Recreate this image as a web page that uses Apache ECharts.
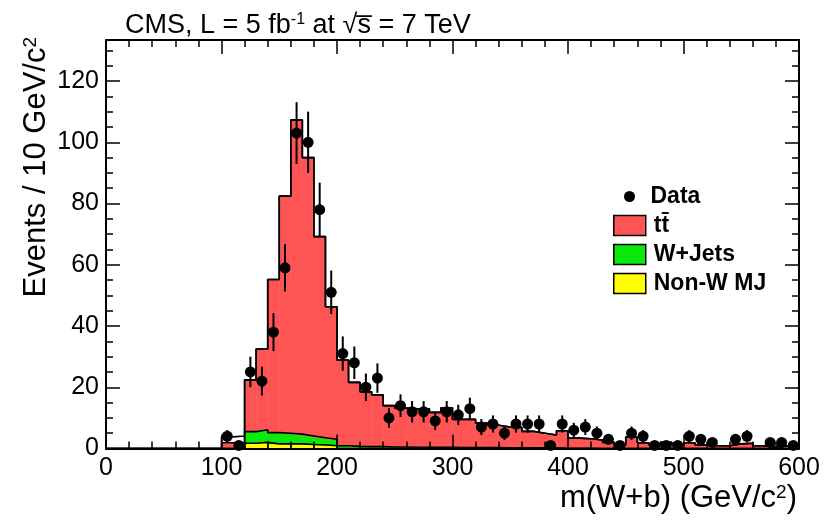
<!DOCTYPE html>
<html>
<head>
<meta charset="utf-8">
<script src="https://cdn.jsdelivr.net/npm/echarts@6/dist/echarts.min.js"></script>
<style>
  html, body { margin: 0; padding: 0; background: #fff; }
  #chart { width: 835px; height: 520px; }
</style>
</head>
<body>
<div id="chart"></div>
<script>
// Reconstructed m(W+b) distribution, 10 GeV/c^2 bins.

// Lower edges of the simulated-histogram bins (GeV/c^2)
const mcEdges = [100, 110, 120, 130, 140, 150, 160, 170, 180, 190,
                 200, 210, 220, 230, 240, 250, 260, 270, 280, 290,
                 300, 310, 320, 330, 340, 350, 360, 370, 380, 390,
                 400, 410, 420, 430, 440, 450, 460, 470, 480, 490,
                 500, 510, 520, 530, 540, 550, 560, 570, 580, 590];
const BIN_WIDTH = 10;

// Stacked expectations (events per bin), bottom to top
const nonWMJ = [0, 0, 1.7, 2.0, 1.5, 1.5, 1.5, 1.3, 1.2, 0.9,
                0, 0, 0, 0, 0, 0, 0, 0, 0, 0,
                0, 0, 0, 0, 0, 0, 0, 0, 0, 0,
                0, 0, 0, 0, 0, 0, 0, 0, 0, 0,
                0, 0, 0, 0, 0, 0, 0, 0, 0, 0];
const wJets = [0, 0, 3.8, 4.1, 3.7, 3.5, 3.2, 2.8, 2.3, 2.1,
               0.9, 0.7, 0.6, 0.6, 0.5, 0.5, 0.4, 0.4, 0.4, 0.4,
               0.3, 0.3, 0.3, 0.3, 0.2, 0.2, 0.2, 0.2, 0.2, 0.1,
               0.1, 0.1, 0, 0, 0, 0, 0, 0, 0, 0,
               0, 0, 0, 0, 0, 0, 0, 0, 0, 0];
const ttbar = [1.9, 1.9, 16.9, 26.4, 50.0, 77.4, 102.6, 90.9, 65.7, 43.3,
               28.0, 20.9, 17.9, 16.9, 13.5, 12.7, 12.6, 12.6, 11.4, 12.9,
               9.2, 9.2, 8.0, 7.3, 6.8, 6.7, 5.4, 4.8, 4.2, 5.7,
               3.3, 3.1, 2.8, 2.0, 1.2, 3.7, 1.9, 1.2, 2.0, 1.2,
               1.9, 1.2, 0.9, 0.9, 1.5, 1.7, 0.9, 0.4, 0.9, 0.6];
// Small unfilled contribution on top of the stack near threshold
const otherBkg = [1.9, 2.2, 0, 0, 0, 0, 0, 0, 0, 0,
                  0, 0, 0, 0, 0, 0, 0, 0, 0, 0,
                  0, 0, 0, 0, 0, 0, 0, 0, 0, 0,
                  0, 0, 0, 0, 0, 0, 0, 0, 0, 0,
                  0, 0, 0, 0, 0, 0, 0, 0, 0, 0];

// Observed events (bin centres, counts, statistical uncertainty)
const dataMass = [105, 115, 125, 135, 145, 155, 165, 175, 185, 195,
                  205, 215, 225, 235, 245, 255, 265, 275, 285, 295,
                  305, 315, 325, 335, 345, 355, 365, 375, 385, 395,
                  405, 415, 425, 435, 445, 455, 465, 475, 485, 495,
                  505, 515, 525, 545, 555, 575, 585, 595];
const dataCounts = [4, 1, 25, 22, 38, 59, 103, 100, 78, 51,
                    31, 28, 20, 23, 10, 14, 12, 12, 9, 12,
                    11, 13, 7, 8, 5, 8, 8, 8, 1, 8,
                    6, 7, 5, 3, 1, 5, 4, 1, 1, 1,
                    4, 3, 2, 3, 4, 2, 2, 1];
const dataErrors = [2.0, 1.0, 5.0, 4.7, 6.2, 7.7, 10.1, 10.0, 8.8, 7.1,
                    5.6, 5.3, 4.5, 4.8, 3.2, 3.7, 3.5, 3.5, 3.0, 3.5,
                    3.3, 3.6, 2.6, 2.8, 2.2, 2.8, 2.8, 2.8, 1.0, 2.8,
                    2.4, 2.6, 2.2, 1.7, 1.0, 2.2, 2.0, 1.0, 1.0, 1.0,
                    2.0, 1.7, 1.4, 1.7, 2.0, 1.4, 1.4, 1.0];

// Axis ranges and tick labels
const xTicks = [0, 100, 200, 300, 400, 500, 600];
const yTicks = [0, 20, 40, 60, 80, 100, 120];
const X_MAX = 600;
const Y_MAX = 133.4;

const FONT = 'Liberation Sans';
const COLORS = { tt: '#ff5454', wj: '#0be80b', mj: '#ffff00', other: '#ffffff' };
const TTBAR = 'tt\u0304';

// Build [lo, hi, base, top] rectangles for each layer of the stack
const layers = [nonWMJ, wJets, ttbar, otherBkg];
const cumulative = [];
let running = mcEdges.map(() => 0);
const layerRects = layers.map(vals => {
  const rects = mcEdges.map((e, i) => [e, e + BIN_WIDTH, running[i], running[i] + vals[i]]);
  running = running.map((r, i) => r + vals[i]);
  cumulative.push(running.slice());
  return rects;
});

// Step outline for a cumulative level
function outline(levels) {
  const pts = [[0, 0]];
  mcEdges.forEach((e, i) => pts.push([e, levels[i]]));
  pts.push([mcEdges[mcEdges.length - 1] + BIN_WIDTH, levels[levels.length - 1]]);
  return pts;
}

function makeBarRenderer(withDividers) {
  return function (params, api) {
    const lo = api.value(0), hi = api.value(1), b = api.value(2), t = api.value(3);
    if (t - b <= 0) return { type: 'group', children: [] };
    const p0 = api.coord([lo, t]);
    const p1 = api.coord([hi, b]);
    const fill = api.visual('color');
    const children = [{
      type: 'rect',
      shape: { x: p0[0], y: p0[1], width: p1[0] - p0[0], height: p1[1] - p0[1] },
      style: { fill: fill, stroke: fill, lineWidth: 0.6 }
    }];
    if (withDividers && lo % 20 === 0) {
      children.push({
        type: 'line',
        shape: { x1: p0[0], y1: p0[1], x2: p0[0], y2: p1[1] },
        style: { stroke: '#000', lineWidth: 1.2 }
      });
    }
    return { type: 'group', children: children };
  };
}

function renderErr(params, api) {
  const x = api.value(0);
  const a = api.coord([x, Math.max(0, api.value(1))]);
  const b = api.coord([x, api.value(2)]);
  return {
    type: 'line',
    shape: { x1: a[0], y1: a[1], x2: b[0], y2: b[1] },
    style: { stroke: '#000', lineWidth: 2 }
  };
}

const axisBase = {
  type: 'value',
  axisLine: { show: true, onZero: false, lineStyle: { color: '#000', width: 2 } },
  axisTick: { show: true, inside: true, length: 14, lineStyle: { color: '#000', width: 1.5 } },
  minorTick: { show: true, length: 7, lineStyle: { color: '#000', width: 1.5 } },
  splitLine: { show: false },
  minorSplitLine: { show: false },
  z: 10
};

const supStyle = { fontSize: 19, verticalAlign: 'top', fontFamily: FONT, color: '#000' };
const legendText = { fontSize: 23, fontWeight: 'bold', color: '#000', fontFamily: FONT };

const option = {
  animation: false,
  backgroundColor: '#fff',
  textStyle: { fontFamily: FONT, color: '#000' },
  grid: { left: 106, right: 36, top: 40, bottom: 71.5, show: false, outerBoundsMode: 'none', containLabel: false },
  title: [
    {
      text: 'CMS, L = 5 fb{sup|-1} at \u221As\u0305 = 7 TeV',
      left: 120, top: 7,
      textStyle: {
        fontSize: 27, fontWeight: 'normal', color: '#000', fontFamily: FONT,
        rich: { sup: { fontSize: 16, verticalAlign: 'top', fontFamily: FONT, color: '#000' } }
      }
    },
    {
      // horizontal-axis title, right-aligned under the axis end
      text: 'm(W+b) (GeV/c{sup|2})',
      right: 38, top: 483, padding: 0,
      textStyle: {
        fontSize: 31, fontWeight: 'normal', color: '#000', fontFamily: FONT,
        rich: { sup: supStyle }
      }
    }
  ],
  legend: [
    {
      data: ['Data'],
      left: 624, top: 185, padding: 0,
      itemWidth: 32, itemHeight: 11,
      icon: 'circle',
      selectedMode: false,
      itemStyle: { color: '#000', opacity: 1 },
      textStyle: legendText
    },
    {
      data: [TTBAR, 'W+Jets', 'Non-W MJ'],
      orient: 'vertical',
      left: 613, top: 214, padding: 0,
      itemWidth: 32, itemHeight: 20, itemGap: 6,
      icon: 'rect',
      selectedMode: false,
      itemStyle: { borderColor: '#000', borderWidth: 1.5 },
      textStyle: Object.assign({}, legendText, { padding: [0, 0, 0, 3] })
    }
  ],
  xAxis: [
    Object.assign({}, axisBase, {
      position: 'bottom', min: xTicks[0], max: X_MAX, interval: xTicks[1] - xTicks[0],
      minorTick: Object.assign({}, axisBase.minorTick, { splitNumber: 5 }),
      axisLabel: { fontSize: 25, color: '#000', margin: 7, fontFamily: FONT }
    }),
    Object.assign({}, axisBase, {
      position: 'top', min: xTicks[0], max: X_MAX, interval: xTicks[1] - xTicks[0],
      minorTick: Object.assign({}, axisBase.minorTick, { splitNumber: 5 }),
      axisLabel: { show: false }
    })
  ],
  yAxis: [
    Object.assign({}, axisBase, {
      position: 'left', min: yTicks[0], max: Y_MAX, interval: yTicks[1] - yTicks[0],
      minorTick: Object.assign({}, axisBase.minorTick, { splitNumber: 4 }),
      axisLabel: { fontSize: 25, color: '#000', margin: 7, fontFamily: FONT, showMaxLabel: false },
      name: 'Events / 10 GeV/c{sup|2}',
      nameLocation: 'end', nameGap: 3, nameRotate: 90,
      nameTextStyle: {
        fontSize: 31, color: '#000', fontFamily: FONT,
        align: 'right', verticalAlign: 'bottom', padding: [0, 0, 54, 0],
        rich: { sup: supStyle }
      }
    }),
    Object.assign({}, axisBase, {
      position: 'right', min: yTicks[0], max: Y_MAX, interval: yTicks[1] - yTicks[0],
      minorTick: Object.assign({}, axisBase.minorTick, { splitNumber: 4 }),
      axisLabel: { show: false }
    })
  ],
  series: [
    {
      name: 'Non-W MJ', type: 'custom', renderItem: makeBarRenderer(true),
      itemStyle: { color: COLORS.mj }, data: layerRects[0],
      encode: { x: [0, 1], y: [2, 3] }, z: 1
    },
    {
      name: 'W+Jets', type: 'custom', renderItem: makeBarRenderer(false),
      itemStyle: { color: COLORS.wj }, data: layerRects[1],
      encode: { x: [0, 1], y: [2, 3] }, z: 1
    },
    {
      name: TTBAR, type: 'custom', renderItem: makeBarRenderer(false),
      itemStyle: { color: COLORS.tt }, data: layerRects[2],
      encode: { x: [0, 1], y: [2, 3] }, z: 1
    },
    {
      name: 'other', type: 'custom', renderItem: makeBarRenderer(false),
      itemStyle: { color: COLORS.other }, data: layerRects[3],
      encode: { x: [0, 1], y: [2, 3] }, z: 1
    },
    ...cumulative.map((lv, k) => ({
      name: 'outline' + k, type: 'line', step: 'end', symbol: 'none',
      data: outline(lv), lineStyle: { color: '#000', width: 1.6 },
      z: 3, silent: true
    })),
    {
      name: 'dataErrors', type: 'custom', renderItem: renderErr,
      data: dataMass.map((m, i) => [m, dataCounts[i] - dataErrors[i], dataCounts[i] + dataErrors[i]]),
      encode: { x: 0, y: [1, 2] }, z: 4
    },
    {
      name: 'Data', type: 'scatter', symbol: 'circle', symbolSize: 11,
      itemStyle: { color: '#000', opacity: 1 },
      data: dataMass.map((m, i) => [m, dataCounts[i]]), z: 5
    }
  ]
};

const chart = echarts.init(document.getElementById('chart'), null, { renderer: 'canvas' });
chart.setOption(option);
</script>
</body>
</html>
